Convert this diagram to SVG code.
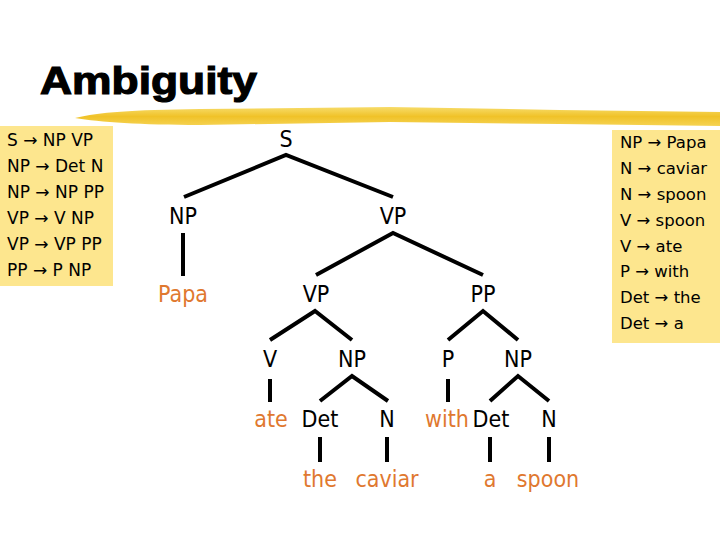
<svg xmlns="http://www.w3.org/2000/svg" width="720" height="540" viewBox="0 0 720 540">
<defs>
<linearGradient id="brush" x1="0" y1="0" x2="0" y2="1">
<stop offset="0" stop-color="#f7dc6a"/>
<stop offset="0.5" stop-color="#f0c228"/>
<stop offset="1" stop-color="#f5d353"/>
</linearGradient>
<style>
.box{fill:#fde68e}
.rule{font-family:"DejaVu Sans","Liberation Sans",sans-serif;font-size:17px;fill:#000}
.rule2{font-family:"DejaVu Sans","Liberation Sans",sans-serif;font-size:16.5px;fill:#000}
.cat{font-family:"DejaVu Sans Condensed","DejaVu Sans",sans-serif;font-size:23px;fill:#000;text-anchor:middle}
.word{font-family:"DejaVu Sans Condensed","DejaVu Sans",sans-serif;font-size:23px;fill:#e0782f;text-anchor:middle}
.edge{stroke:#000;stroke-width:4;fill:none;stroke-linecap:butt}
</style>
</defs>
<rect width="720" height="540" fill="#fff"/>
<text x="40" y="94" font-family="'Liberation Sans',Arial,sans-serif" font-weight="bold" font-size="39" stroke="#000" stroke-width="1.2" textLength="217" lengthAdjust="spacingAndGlyphs">Ambiguity</text>
<path d="M75,118 C100,112 130,110 200,109 L390,107 L560,110 L720,112 L720,126 L560,124 L390,122 L200,125 C140,125 100,122 75,118 Z" fill="url(#brush)"/>
<g id="grammar-rules">
<rect class="box" x="0" y="126" width="113" height="160"/>
<text class="rule" x="7" y="146">S → NP VP</text>
<text class="rule" x="7" y="172">NP → Det N</text>
<text class="rule" x="7" y="198">NP → NP PP</text>
<text class="rule" x="7" y="224">VP → V NP</text>
<text class="rule" x="7" y="250">VP → VP PP</text>
<text class="rule" x="7" y="276">PP → P NP</text>
</g>
<g id="lexicon-rules">
<rect class="box" x="612" y="130" width="108" height="213"/>
<text class="rule2" x="620" y="148">NP → Papa</text>
<text class="rule2" x="620" y="174">N → caviar</text>
<text class="rule2" x="620" y="200">N → spoon</text>
<text class="rule2" x="620" y="226">V → spoon</text>
<text class="rule2" x="620" y="252">V → ate</text>
<text class="rule2" x="620" y="277">P → with</text>
<text class="rule2" x="620" y="303">Det → the</text>
<text class="rule2" x="620" y="329">Det → a</text>
</g>
<g id="connectors">
<polyline class="edge" points="184,197 286,155 393,197"/>
<line class="edge" x1="183" y1="233" x2="183" y2="276"/>
<polyline class="edge" points="316,275 393,233 483,275"/>
<polyline class="edge" points="270,340 315,311 352,340"/>
<polyline class="edge" points="448,340 483,311 518,340"/>
<line class="edge" x1="270" y1="379" x2="270" y2="402"/>
<polyline class="edge" points="320,401 352,376 388,401"/>
<line class="edge" x1="448" y1="379" x2="448" y2="402"/>
<polyline class="edge" points="490,401 518,376 549,401"/>
<line class="edge" x1="320" y1="437" x2="320" y2="462"/>
<line class="edge" x1="387" y1="437" x2="387" y2="462"/>
<line class="edge" x1="490" y1="437" x2="490" y2="462"/>
<line class="edge" x1="549" y1="437" x2="549" y2="462"/>
</g>
<g id="n-S"><text class="cat" x="286" y="147">S</text></g>
<g id="n-NP1"><text class="cat" x="183" y="224">NP</text></g>
<g id="n-VP1"><text class="cat" x="393" y="224">VP</text></g>
<g id="n-Papa"><text class="word" x="183" y="302">Papa</text></g>
<g id="n-VP2"><text class="cat" x="316" y="302">VP</text></g>
<g id="n-PP"><text class="cat" x="483" y="302">PP</text></g>
<g id="n-V"><text class="cat" x="270" y="367">V</text></g>
<g id="n-NP2"><text class="cat" x="352" y="367">NP</text></g>
<g id="n-P"><text class="cat" x="448" y="367">P</text></g>
<g id="n-NP3"><text class="cat" x="518" y="367">NP</text></g>
<g id="n-ate"><text class="word" x="271" y="427">ate</text></g>
<g id="n-Det1"><text class="cat" x="320" y="427">Det</text></g>
<g id="n-N1"><text class="cat" x="387" y="427">N</text></g>
<g id="n-with"><text class="word" x="447" y="427">with</text></g>
<g id="n-Det2"><text class="cat" x="491" y="427">Det</text></g>
<g id="n-N2"><text class="cat" x="549" y="427">N</text></g>
<g id="n-the"><text class="word" x="320" y="487">the</text></g>
<g id="n-caviar"><text class="word" x="387" y="487">caviar</text></g>
<g id="n-a"><text class="word" x="490" y="487">a</text></g>
<g id="n-spoon"><text class="word" x="548" y="487">spoon</text></g>
</svg>
